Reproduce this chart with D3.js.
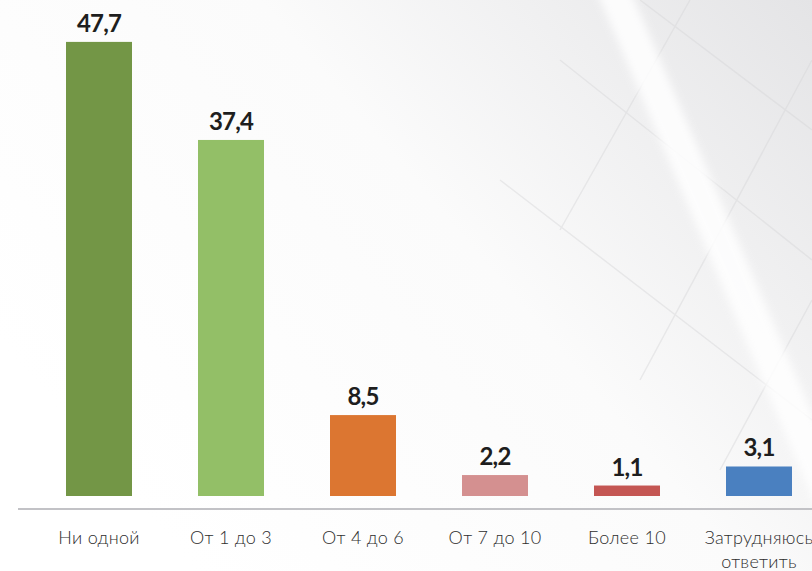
<!DOCTYPE html>
<html>
<head>
<meta charset="utf-8">
<script src="https://cdn.jsdelivr.net/npm/d3@7"></script>
<style>
  html, body { margin: 0; padding: 0; background: #fff; }
  svg { display: block; }
</style>
</head>
<body>
<svg id="chart" width="812" height="571"></svg>
<script>
// данные
const categories = ["Ни одной", "От 1 до 3", "От 4 до 6", "От 7 до 10", "Более 10", "Затрудняюсь ответить"];
const values = [47.7, 37.4, 8.5, 2.2, 1.1, 3.1];
const colors = ["#739646", "#93bf67", "#dc7631", "#d49090", "#c45653", "#4a80c0"];

const svg = d3.select("#chart"),
      width = +svg.attr("width"),
      height = +svg.attr("height");

// фон: светло-серый градиент справа
const defs = svg.append("defs");
const grad = defs.append("linearGradient")
  .attr("id", "bg")
  .attr("x1", "0").attr("y1", "0.6")
  .attr("x2", "1").attr("y2", "0");
grad.append("stop").attr("offset", "0").attr("stop-color", "#ffffff");
grad.append("stop").attr("offset", "0.5").attr("stop-color", "#fbfbfb");
grad.append("stop").attr("offset", "1").attr("stop-color", "#e4e4e6");

svg.append("rect")
  .attr("width", width).attr("height", height)
  .attr("fill", "url(#bg)");

defs.append("filter").attr("id", "blur")
  .append("feGaussianBlur").attr("stdDeviation", 4);

const deco = svg.append("g").attr("stroke", "#d6d6d8").attr("stroke-width", 1.5).attr("opacity", 0.45);
[[640, 0, 812, 130], [560, 60, 812, 260], [500, 180, 812, 420], [690, 0, 560, 230], [812, 60, 640, 380], [812, 300, 720, 470]]
  .forEach(l => deco.append("line").attr("x1", l[0]).attr("y1", l[1]).attr("x2", l[2]).attr("y2", l[3]));

svg.append("path")
  .attr("d", "M596,-10 L630,-10 L884,581 L848,581 Z")
  .attr("fill", "#ffffff")
  .attr("opacity", 0.85)
  .attr("filter", "url(#blur)");

// шкалы
const x = d3.scaleBand()
  .domain(categories)
  .range([33, 825])
  .paddingInner(0.5)
  .paddingOuter(0.25);

const y = d3.scaleLinear()
  .domain([0, 50])
  .range([496, 20]);

// столбцы
svg.selectAll("rect.bar")
  .data(values)
  .join("rect")
  .attr("class", "bar")
  .attr("x", (d, i) => x(categories[i]))
  .attr("y", d => y(d))
  .attr("width", x.bandwidth())
  .attr("height", d => y(0) - y(d))
  .attr("fill", (d, i) => colors[i]);

// подписи значений
svg.selectAll("text.val")
  .data(values)
  .join("text")
  .attr("class", "val")
  .attr("x", (d, i) => x(categories[i]) + x.bandwidth() / 2)
  .attr("y", d => y(d) - 10)
  .attr("text-anchor", "middle")
  .attr("font-family", "Lato, 'Open Sans', sans-serif")
  .attr("font-weight", "bold")
  .attr("font-size", "24px")
  .attr("letter-spacing", "-0.8px")
  .attr("fill", "#1e1e1e")
  .text(d => d3.format(".1f")(d).replace(".", ","));

// ось
const axis = svg.append("g")
  .attr("transform", `translate(0, 509)`)
  .call(d3.axisBottom(x).tickSize(0).tickFormat(""));
axis.select(".domain")
  .attr("d", "M18,0H812")
  .attr("stroke", "#c2c2c6")
  .attr("stroke-width", 2);

// подписи категорий
const labels = svg.selectAll("text.cat")
  .data(categories)
  .join("text")
  .attr("class", "cat")
  .attr("x", d => x(d) + x.bandwidth() / 2)
  .attr("y", 544)
  .attr("text-anchor", "middle")
  .attr("font-family", "Lato, 'Open Sans', sans-serif")
  .attr("font-weight", 300)
  .attr("font-size", "18px")
  .attr("letter-spacing", "0.3px")
  .attr("fill", "#2e2e2e");

labels.each(function(d) {
  const words = d === "Затрудняюсь ответить" ? ["Затрудняюсь", "ответить"] : [d];
  d3.select(this).selectAll("tspan")
    .data(words)
    .join("tspan")
    .attr("x", d3.select(this).attr("x"))
    .attr("dy", (w, i) => i === 0 ? 0 : 24)
    .text(w => w);
});
</script>
</body>
</html>
